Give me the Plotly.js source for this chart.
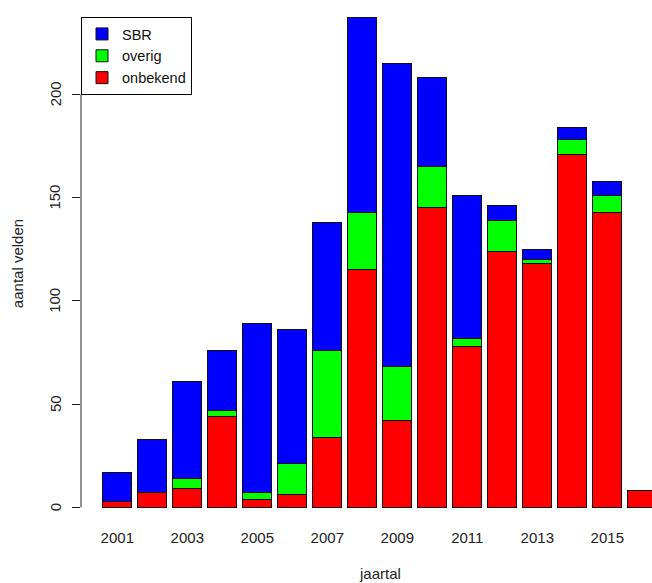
<!DOCTYPE html>
<html>
<head>
<meta charset="utf-8">
<script src="https://cdn.plot.ly/plotly-3.0.1.min.js"></script>
<style>html,body{margin:0;padding:0;background:#fff;overflow:hidden;}#chart{width:652px;height:583px;}</style>
</head>
<body>
<div id="chart"></div>
<script>
const years = [2001,2002,2003,2004,2005,2006,2007,2008,2009,2010,2011,2012,2013,2014,2015,2016];
const onbekend = [3,7,9,44,4,6,34,115,42,145,78,124,118,171,143,8];
const overig   = [0,0,5,3,3,15,42,28,26,20,4,15,2,7,8,0];
const sbr      = [14,26,47,29,82,65,62,94,147,43,69,7,5,6,7,0];
const yTicks = [0,50,100,150,200];
const xTickYears = [2001,2003,2005,2007,2009,2011,2013,2015];

const font = {family: 'Liberation Sans, Arial, sans-serif', size: 15, color: '#222'};
const line = {color: '#111', width: 1};

const traces = [
  {type:'bar', name:'onbekend', x: years, y: onbekend, marker:{color:'#FF0000', line: line}},
  {type:'bar', name:'overig', x: years, y: overig, marker:{color:'#00FF00', line: line}},
  {type:'bar', name:'SBR', x: years, y: sbr, marker:{color:'#0000FF', line: line}}
];

// rotated y tick labels (R style, reading bottom to top)
const yTickLabels = yTicks.map(v => ({
  text: String(v), xref: 'paper', yref: 'y', x: -26/571, y: v,
  xanchor: 'center', yanchor: 'middle', textangle: -90, showarrow: false,
  font: {family: font.family, size: 15, color: '#222'}
}));

const layout = {
  width: 652, height: 583,
  margin: {l: 81, r: 0, t: 0, b: 56},
  paper_bgcolor: '#fff', plot_bgcolor: '#fff',
  font: font,
  barmode: 'stack',
  bargap: 0.1667,
  showlegend: true,
  legend: {
    x: 0, y: 1 - 17/527, xanchor: 'left', yanchor: 'top',
    bordercolor: '#000', borderwidth: 1, bgcolor: '#fff',
    traceorder: 'reversed',
    tracegroupgap: 0,
    font: {family: font.family, size: 14.5, color: '#111'}
  },
  xaxis: {
    range: [1999.963, 2016.277],
    tickvals: xTickYears, ticktext: xTickYears.map(String),
    ticks: '', showline: false, showgrid: false, zeroline: false,
    tickfont: {family: font.family, size: 15, color: '#222'},
    fixedrange: true
  },
  yaxis: {
    range: [-9.54, 245.7],
    tickvals: yTicks, showticklabels: false,
    ticks: 'outside', ticklen: 8, tickcolor: '#222', tickwidth: 1,
    automargin: false,
    showline: false, showgrid: false, zeroline: false,
    title: {text: 'aantal velden', font: {family: font.family, size: 15, color: '#222'}, standoff: 44},
    fixedrange: true
  },
  shapes: [
    {type:'line', xref:'paper', yref:'y', x0:0, x1:0, y0:yTicks[0], y1:yTicks[yTicks.length-1], line:{color:'#222', width:1}}
  ],
  annotations: yTickLabels.concat([
    {text:'jaartal', xref:'paper', yref:'paper', x:0.524, y:-0.088, xanchor:'center', yanchor:'middle', showarrow:false, font:{family: font.family, size: 15, color:'#222'}}
  ])
};

Plotly.newPlot('chart', traces, layout, {displayModeBar: false, staticPlot: true});
</script>
</body>
</html>
